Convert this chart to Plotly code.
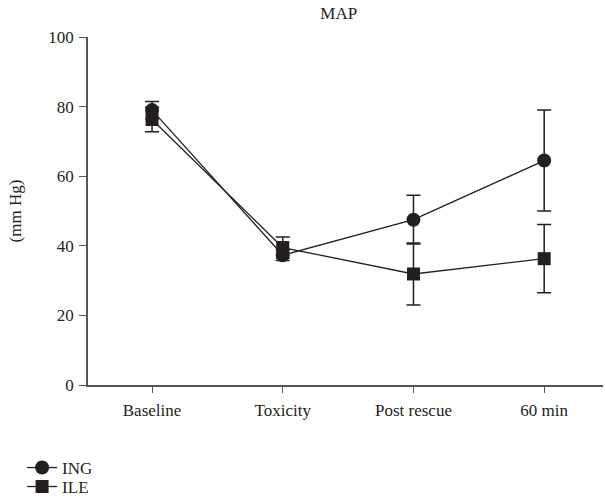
import plotly.graph_objects as go

categories = ["Baseline", "Toxicity", "Post rescue", "60 min"]
ing_values = [79.0, 37.3, 47.5, 64.5]
ing_errors = [2.5, 1.5, 7.0, 14.5]
ile_values = [76.3, 39.5, 31.9, 36.3]
ile_errors = [3.5, 3.0, 8.9, 9.8]
y_ticks = [0, 20, 40, 60, 80, 100]

FONT = "Liberation Serif"
FS = 17
ink = "#231f20"

fig = go.Figure()
fig.add_trace(go.Scatter(
    x=list(range(len(categories))), y=ing_values, name="ING", mode="lines+markers",
    line=dict(color=ink, width=1.3),
    marker=dict(symbol="circle", size=14, color=ink),
    error_y=dict(type="data", array=ing_errors, visible=True, color=ink, thickness=1.5, width=7),
    legend="legend",
))
fig.add_trace(go.Scatter(
    x=list(range(len(categories))), y=ile_values, name="ILE", mode="lines+markers",
    line=dict(color=ink, width=1.3),
    marker=dict(symbol="square", size=13, color=ink),
    error_y=dict(type="data", array=ile_errors, visible=True, color=ink, thickness=1.5, width=7),
    legend="legend2",
))

legend_common = dict(xanchor="left", yanchor="middle",
                     font=dict(family=FONT, size=FS, color=ink),
                     itemwidth=30, bgcolor="rgba(0,0,0,0)")

fig.update_layout(
    width=605, height=503,
    margin=dict(l=88, r=2, t=37, b=118, autoexpand=False),
    paper_bgcolor="white", plot_bgcolor="white",
    font=dict(family=FONT, size=FS, color=ink),
    title=dict(text="MAP", x=0.56, xanchor="center", y=0.985, yanchor="top",
               font=dict(family=FONT, size=FS, color=ink)),
    showlegend=True,
    legend=dict(x=-0.128, y=-0.2385, **legend_common),
    legend2=dict(x=-0.128, y=-0.293, **legend_common),
    xaxis=dict(
        range=[-0.49, 3.45], tickmode="array", tickvals=list(range(len(categories))),
        ticktext=categories, showline=True, linecolor="#555", linewidth=1.5,
        ticks="outside", ticklen=6, tickcolor="#555", showgrid=False, zeroline=False,
        automargin=False, ticklabelstandoff=3,
    ),
    yaxis=dict(
        range=[0, 100], tickmode="array", tickvals=y_ticks,
        showline=True, linecolor="#555", linewidth=1.5,
        ticks="outside", ticklen=7, tickcolor="#555", showgrid=False, zeroline=False,
        automargin=False, ticklabelstandoff=2,
        title=dict(text="(mm Hg)", standoff=22, font=dict(family=FONT, size=FS, color=ink)),
    ),
)

fig.write_html("out.html", config={"displayModeBar": False},
               post_script="document.body.style.margin='0';")
